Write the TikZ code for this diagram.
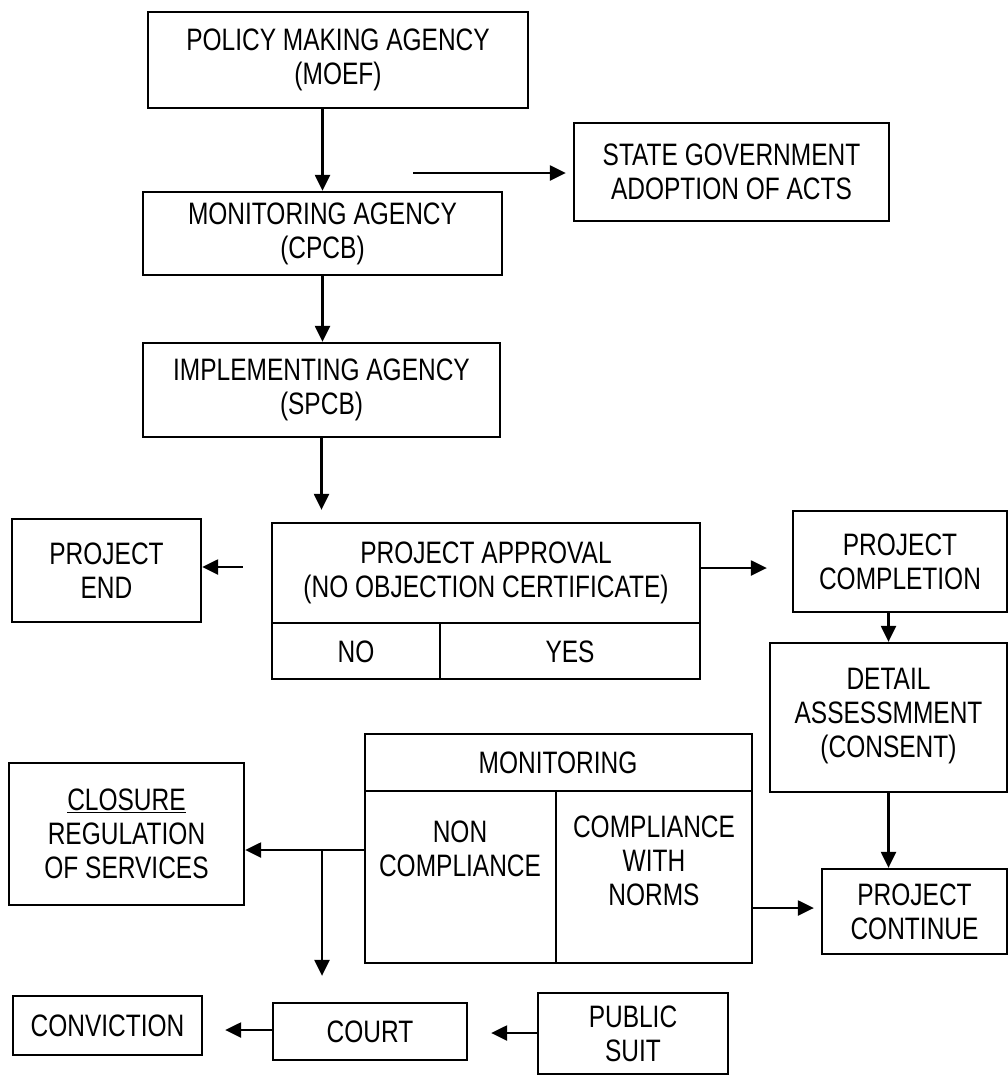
\documentclass[tikz,border=0pt]{standalone}
\usepackage{fontspec}
\setmainfont{Liberation Sans}[FakeStretch=0.79]
\usetikzlibrary{arrows.meta,calc}
\tikzset{
  lbl/.style={font=\fontsize{31}{34}\selectfont, align=center, inner sep=0pt},
  box/.style={lbl, draw, line width=2.3pt},
  arr/.style={line width=2.3pt, -{Triangle[length=16pt,width=15pt]}},
  rule/.style={line width=2.3pt},
}
\begin{document}
\begin{tikzpicture}[x=1pt,y=-1pt]
\useasboundingbox (0,0) rectangle (1008,1076);
% top chain
\node[box, minimum width=380, minimum height=96] (pol) at (338,60) {POLICY MAKING AGENCY\\(MOEF)};
\node[box, minimum width=359, minimum height=83] (mon) at (322.5,233.5) {MONITORING AGENCY\\(CPCB)};
\node[box, minimum width=357, minimum height=94] (imp) at (321.5,390) {IMPLEMENTING AGENCY\\(SPCB)};
\node[box, minimum width=315, minimum height=98] (sg) at (731.5,172) {STATE GOVERNMENT\\ADOPTION OF ACTS};
\coordinate (sgstart) at (413,173);
% project approval
\node[draw, rule, minimum width=428, minimum height=156, inner sep=0pt] (appr) at (486,601) {};
\draw[rule] (272,623) -- (700,623);
\draw[rule] (440,623) -- (440,679);
\node[lbl] (apprtxt) at (486,573) {PROJECT APPROVAL\\(NO OBJECTION CERTIFICATE)};
\node[lbl] (no) at (356,652) {NO};
\node[lbl] (yes) at (570,652) {YES};
\node[box, minimum width=189, minimum height=103] (pend) at (106.5,570.5) {PROJECT\\END};
\node[box, minimum width=214, minimum height=101] (pcomp) at (900,561.5) {PROJECT\\COMPLETION};
\node[box, minimum width=237, minimum height=149, text depth=10pt] (detail) at (888.5,717.5) {DETAIL\\ASSESSMMENT\\(CONSENT)};
\node[box, minimum width=185, minimum height=85] (pcont) at (914.5,911.5) {PROJECT\\CONTINUE};
% monitoring
\node[draw, rule, minimum width=387, minimum height=229, inner sep=0pt] (moni) at (558.5,848.5) {};
\draw[rule] (365,791) -- (752,791);
\draw[rule] (556,791) -- (556,963);
\node[lbl] (monitxt) at (558,763) {MONITORING};
\node[lbl] (noncomp) at (460,849) {NON\\COMPLIANCE};
\node[lbl] (comp) at (654,861) {COMPLIANCE\\WITH\\NORMS};
\node[box, minimum width=235, minimum height=142] (closure) at (126.5,834) {\underline{CLOSURE}\\REGULATION\\OF SERVICES};
\coordinate (br) at (322,850);
% bottom row
\node[box, minimum width=194, minimum height=57] (court) at (370,1031.5) {COURT};
\node[box, minimum width=189, minimum height=59] (conv) at (107.5,1025.5) {CONVICTION};
\node[box, minimum width=190, minimum height=81] (psuit) at (633,1033.5) {PUBLIC\\SUIT};
% connectors
\draw[arr] (mon.north |- pol.south) -- (mon.north);
\draw[arr] (mon.south) -- (mon.south |- imp.north);
\draw[arr, shorten >=12pt] (imp.south) -- (imp.south |- appr.north);
\draw[arr, shorten >=7pt] (sgstart) -- (sg.west |- sgstart);
\draw[arr, shorten <=28pt] (appr.west |- 0,567) -- (pend.east |- 0,567);
\draw[arr, shorten >=25pt] (appr.east |- 0,568) -- (pcomp.west |- 0,568);
\draw[arr] (pcomp.south -| detail.north) -- (detail.north);
\draw[arr] (detail.south) -- (detail.south |- pcont.north);
\draw[arr] (moni.west |- br) -- (closure.east |- br);
\draw[arr, shorten >=26pt] (br) -- (br |- court.north);
\draw[arr, shorten >=7pt] (moni.east |- 0,908) -- (pcont.west |- 0,908);
\draw[arr, shorten >=22pt] (court.west |- 0,1030) -- (conv.east |- 0,1030);
\draw[arr, shorten >=23pt] (psuit.west |- 0,1033) -- (court.east |- 0,1033);
\end{tikzpicture}
\end{document}
